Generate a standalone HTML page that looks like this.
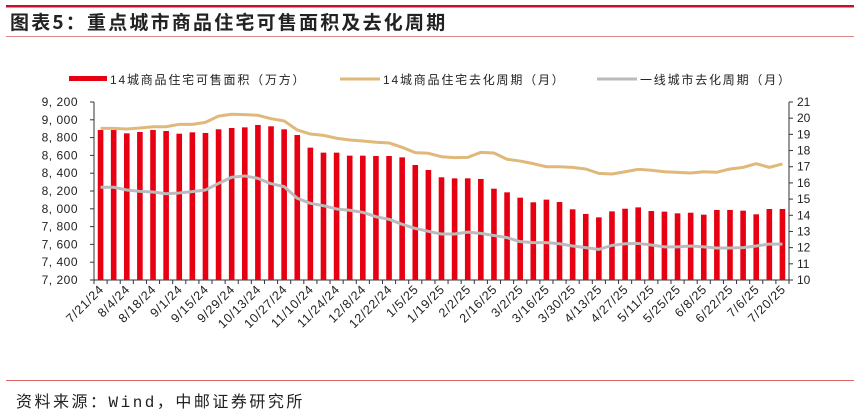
<!DOCTYPE html>
<html><head><meta charset="utf-8"><style>
html,body{margin:0;padding:0;background:#fff;}
svg{display:block;font-family:"Liberation Sans","Noto Sans CJK SC",sans-serif;}
</style></head><body>
<svg id="chart" width="859" height="416" viewBox="0 0 859 416">
<rect x="6" y="5" width="848" height="2.5" fill="#c8102e"/>
<text x="10" y="29" font-size="19" font-weight="bold" fill="#222" letter-spacing="2.2" font-family="'Noto Sans CJK SC',sans-serif">图表5：重点城市商品住宅可售面积及去化周期</text>
<rect x="6" y="36" width="848" height="1" fill="#d88"/>
<g>
<rect x="69" y="76" width="38" height="5" fill="#e60012"/>
<text x="110" y="84" font-size="12" fill="#222" letter-spacing="1.8">14城商品住宅可售面积（万方）</text>
<rect x="340" y="77.5" width="40" height="3" fill="#e0b97a"/>
<text x="383" y="84" font-size="12" fill="#222" letter-spacing="1.8">14城商品住宅去化周期（月）</text>
<rect x="597" y="77.5" width="40" height="3" fill="#bbb"/>
<text x="640" y="84" font-size="12" fill="#222" letter-spacing="1.8">一线城市去化周期（月）</text>
</g>
<g id="plot"></g>
<rect x="6" y="380" width="848" height="1" fill="#d66"/>
<text x="16" y="407" font-size="16" fill="#222" letter-spacing="2.5" font-family="'Liberation Mono','Noto Sans CJK SC',monospace">资料来源：Wind，中邮证券研究所</text>
</svg>
<script>
const areaValues=[8885,8885,8848,8863,8885,8874,8844,8859,8852,8893,8908,8915,8942,8927,8893,8829,8687,8631,8631,8597,8597,8593,8593,8578,8492,8436,8354,8342,8342,8335,8226,8185,8125,8073,8103,8076,7994,7942,7904,7971,8001,8016,7975,7968,7949,7956,7934,7987,7987,7979,7938,7998,7998];
const cycle14=[19.37,19.37,19.33,19.39,19.47,19.47,19.62,19.62,19.74,20.13,20.24,20.22,20.18,19.97,19.83,19.27,19.02,18.94,18.76,18.65,18.59,18.51,18.47,18.2,17.87,17.83,17.62,17.56,17.58,17.89,17.85,17.46,17.35,17.19,17.0,17.0,16.96,16.86,16.59,16.55,16.69,16.84,16.78,16.69,16.65,16.61,16.69,16.66,16.86,16.96,17.19,16.96,17.17];
const cycleTier1=[15.73,15.73,15.56,15.48,15.44,15.33,15.38,15.46,15.56,15.97,16.35,16.43,16.28,15.95,15.77,15.05,14.74,14.59,14.39,14.31,14.18,13.91,13.75,13.44,13.19,13.01,12.84,12.84,12.96,12.88,12.75,12.62,12.37,12.31,12.31,12.24,12.1,12.0,11.89,12.14,12.24,12.26,12.16,12.05,12.05,12.1,12.05,11.98,11.98,12.0,12.1,12.22,12.22];
const xLabels=["7/21/24","8/4/24","8/18/24","9/1/24","9/15/24","9/29/24","10/13/24","10/27/24","11/10/24","11/24/24","12/8/24","12/22/24","1/5/25","1/19/25","2/2/25","2/16/25","3/2/25","3/16/25","3/30/25","4/13/25","4/27/25","5/11/25","5/25/25","6/8/25","6/22/25","7/6/25","7/20/25"];
const leftTicks=[7200,7400,7600,7800,8000,8200,8400,8600,8800,9000,9200];
const rightTicks=[10,11,12,13,14,15,16,17,18,19,20,21];

const NS="http://www.w3.org/2000/svg";
const plot=document.getElementById('plot');
const X0=94,X1=789,YT=102,YB=280;
const n=areaValues.length,bw=(X1-X0)/n;
const xc=i=>X0+bw*(i+0.5);
const yL=v=>YB-(v-7200)/(9200-7200)*(YB-YT);
const yR=v=>YB-(v-10)/(21-10)*(YB-YT);
function mk(t,a){const e=document.createElementNS(NS,t);for(const k in a)e.setAttribute(k,a[k]);plot.appendChild(e);return e;}
let e=mk('line',{x1:X0,y1:YT,x2:X0,y2:YB,stroke:'#333','stroke-width':1});


e=mk('line',{x1:X1,y1:YT,x2:X1,y2:YB,stroke:'#333','stroke-width':1});


e=mk('line',{x1:X0,y1:YB,x2:X1,y2:YB,stroke:'#333','stroke-width':1});


leftTicks.forEach(v=>{
  mk('line',{x1:X0-4,y1:yL(v),x2:X0,y2:yL(v),stroke:'#333'});
  const t=mk('text',{x:X0-16,y:yL(v)+4,'font-size':12,'text-anchor':'end',fill:'#222','letter-spacing':0.5});
  t.textContent=v.toLocaleString('en-US').replace(',',', ');
  
  
});
rightTicks.forEach(v=>{
  mk('line',{x1:X1,y1:yR(v),x2:X1+4,y2:yR(v),stroke:'#333'});
  const t=mk('text',{x:X1+8,y:yR(v)+4,'font-size':12,fill:'#222'});
  t.textContent=v;
  
  
});
for(let i=0;i<=n;i++){mk('line',{x1:X0+bw*i,y1:YB,x2:X0+bw*i,y2:YB+4,stroke:'#333'});}
areaValues.forEach((v,i)=>{
  const b=mk('rect',{x:xc(i)-2.8,y:yL(v),width:5.6,height:YB-yL(v),fill:'#e60012'});
  
  
});
function line(arr,color,name){
  const p=mk('polyline',{points:arr.map((v,i)=>xc(i)+','+yR(v)).join(' '),fill:'none',stroke:color,'stroke-width':3,'stroke-linejoin':'round'});
  
  
}
line(cycle14,'#e0b97a','line-14city-cycle');
line(cycleTier1,'#bbbbbb','line-tier1-cycle');
xLabels.forEach((s,k)=>{
  const x=xc(k*2)+4,y=YB+10;
  const t=mk('text',{x:x,y:y,'font-size':12.5,'text-anchor':'end',fill:'#222','letter-spacing':0.8,transform:`rotate(-45 ${x} ${y})`});
  t.textContent=s;
  
  
});
</script>
</body></html>
